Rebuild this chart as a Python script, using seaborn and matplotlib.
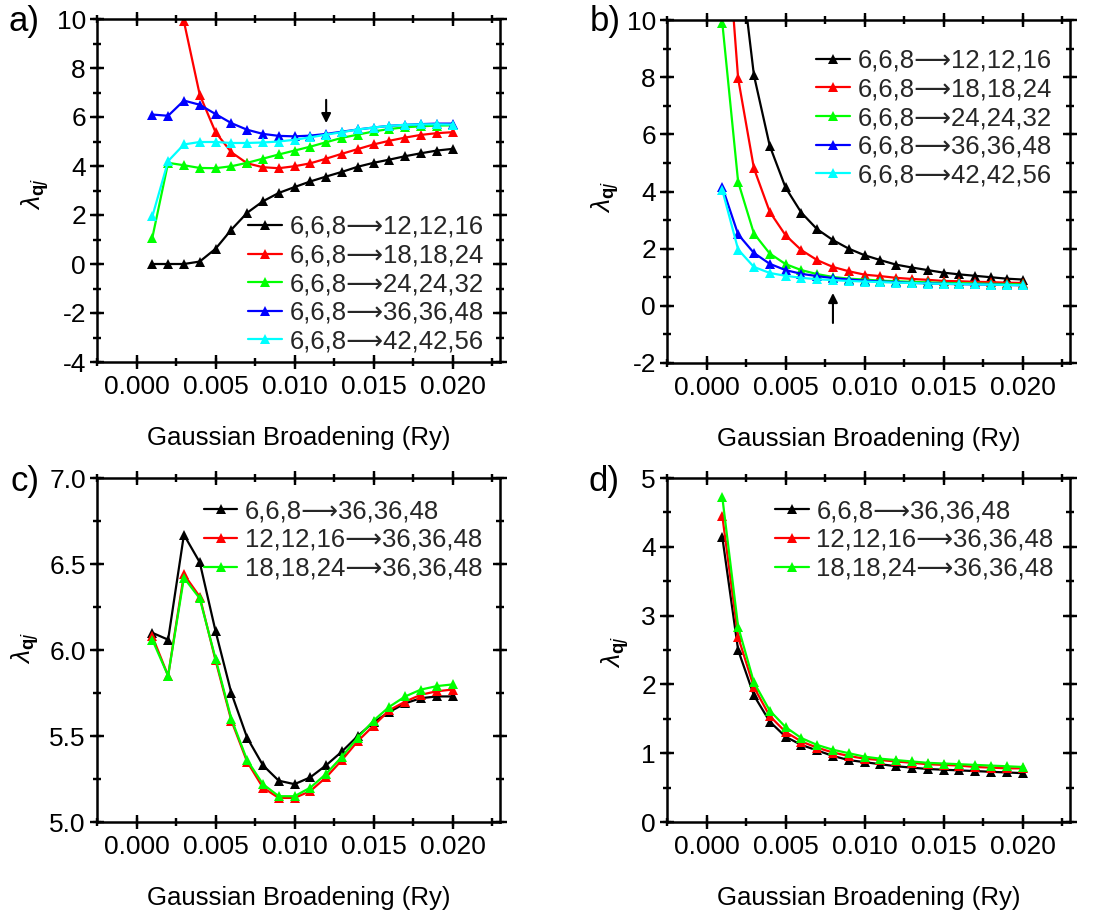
import numpy as np
import pandas as pd
import matplotlib
matplotlib.use("Agg")
import matplotlib.pyplot as plt
from matplotlib.ticker import MultipleLocator, FormatStrFormatter
import seaborn as sns

# ---------------- data ----------------
x = [0.001 * i for i in range(1, 21)]

ARW = "\u27f6"
# panel a
a_labels = ["6,6,8" + ARW + "12,12,16", "6,6,8" + ARW + "18,18,24", "6,6,8" + ARW + "24,24,32",
            "6,6,8" + ARW + "36,36,48", "6,6,8" + ARW + "42,42,56"]
a_black = [0.0, 0.0, 0.0, 0.1, 0.62, 1.4, 2.09, 2.56, 2.9, 3.14, 3.37, 3.57, 3.76,
           3.97, 4.13, 4.26, 4.4, 4.52, 4.63, 4.7]
a_red = [np.nan, np.nan, 9.9, 6.91, 5.38, 4.56, 4.11, 3.95, 3.91, 3.99, 4.11, 4.3,
         4.5, 4.69, 4.88, 5.03, 5.16, 5.27, 5.34, 5.38]
a_green = [1.07, 4.13, 4.03, 3.92, 3.91, 3.99, 4.13, 4.3, 4.47, 4.63, 4.79, 4.97,
           5.15, 5.28, 5.41, 5.51, 5.58, 5.62, 5.65, 5.66]
a_blue = [6.1, 6.05, 6.67, 6.5, 6.12, 5.75, 5.48, 5.31, 5.23, 5.21, 5.24, 5.31,
          5.4, 5.49, 5.57, 5.64, 5.68, 5.71, 5.73, 5.73]
a_cyan = [1.94, 4.2, 4.88, 4.98, 4.98, 4.94, 4.94, 4.96, 5.0, 5.07, 5.17, 5.28,
          5.38, 5.49, 5.57, 5.64, 5.68, 5.7, 5.7, 5.69]

# panel b
b_labels = a_labels
b_black = [np.nan, 12.7, 8.07, 5.6, 4.14, 3.26, 2.68, 2.3, 2.0, 1.77, 1.6, 1.44,
           1.34, 1.25, 1.16, 1.1, 1.05, 1.0, 0.95, 0.92]
b_red = [15.3, 7.96, 4.81, 3.29, 2.47, 1.95, 1.6, 1.36, 1.21, 1.09, 1.04, 0.98,
         0.94, 0.91, 0.87, 0.86, 0.84, 0.83, 0.81, 0.8]
b_green = [9.9, 4.34, 2.53, 1.83, 1.46, 1.25, 1.11, 1.01, 0.95, 0.92, 0.88, 0.86,
           0.84, 0.82, 0.8, 0.79, 0.78, 0.77, 0.76, 0.75]
b_blue = [4.15, 2.5, 1.85, 1.47, 1.25, 1.12, 1.04, 0.97, 0.92, 0.88, 0.85, 0.83,
          0.8, 0.79, 0.77, 0.76, 0.75, 0.74, 0.73, 0.72]
b_cyan = [4.05, 1.97, 1.36, 1.15, 1.05, 0.98, 0.93, 0.9, 0.87, 0.85, 0.83, 0.81,
          0.8, 0.78, 0.77, 0.76, 0.75, 0.74, 0.73, 0.72]

# panel c
cd_labels = ["6,6,8" + ARW + "36,36,48", "12,12,16" + ARW + "36,36,48", "18,18,24" + ARW + "36,36,48"]
c_black = [6.1, 6.06, 6.67, 6.51, 6.11, 5.75, 5.49, 5.33, 5.24, 5.22, 5.26, 5.33,
           5.41, 5.5, 5.58, 5.64, 5.69, 5.72, 5.73, 5.73]
c_red = [6.08, 5.85, 6.44, 6.31, 5.94, 5.59, 5.35, 5.2, 5.14, 5.14, 5.18, 5.26,
         5.36, 5.47, 5.56, 5.65, 5.7, 5.74, 5.76, 5.77]
c_green = [6.06, 5.85, 6.42, 6.3, 5.95, 5.6, 5.36, 5.22, 5.15, 5.15, 5.2, 5.28,
           5.38, 5.49, 5.59, 5.67, 5.73, 5.77, 5.79, 5.8]

# panel d
d_black = [4.14, 2.5, 1.84, 1.46, 1.24, 1.12, 1.04, 0.96, 0.9, 0.87, 0.84, 0.81,
           0.79, 0.77, 0.76, 0.75, 0.74, 0.73, 0.72, 0.71]
d_red = [4.45, 2.69, 1.96, 1.54, 1.31, 1.17, 1.08, 1.01, 0.96, 0.92, 0.9, 0.88,
         0.86, 0.84, 0.83, 0.82, 0.8, 0.79, 0.78, 0.78]
d_green = [4.72, 2.84, 2.03, 1.62, 1.38, 1.22, 1.12, 1.05, 1.0, 0.95, 0.92, 0.9,
           0.88, 0.86, 0.85, 0.84, 0.83, 0.82, 0.81, 0.8]

xlabel = "Gaussian Broadening (Ry)"
ylabel = r"$\lambda_{\mathbf{q}j}$"
panel_tags = ["a)", "b)", "c)", "d)"]

# arrows (annotation positions)
arrow_a = dict(x=0.012, y_tail=6.7, y_head=5.75)
arrow_b = dict(x=0.008, y_tail=-0.6, y_head=0.45)

# ---------------- style ----------------
sns.set_theme(style="ticks")
MAJ_LEN, MIN_LEN, TICK_W = 10, 6, 1.6
plt.rcParams.update({
    "font.family": ["Liberation Sans", "DejaVu Sans"],
    "mathtext.fontset": "custom",
    "mathtext.rm": "Liberation Sans",
    "mathtext.it": "Liberation Sans:italic",
    "mathtext.bf": "Liberation Sans:bold",
    "xtick.direction": "inout", "ytick.direction": "inout",
    "xtick.top": True, "ytick.right": True,
    "xtick.bottom": True, "ytick.left": True,
    "xtick.minor.visible": True, "ytick.minor.visible": True,
    "xtick.major.size": MAJ_LEN, "ytick.major.size": MAJ_LEN,
    "xtick.minor.size": MIN_LEN, "ytick.minor.size": MIN_LEN,
    "xtick.major.width": TICK_W, "ytick.major.width": TICK_W,
    "xtick.minor.width": TICK_W, "ytick.minor.width": TICK_W,
    "xtick.color": "black", "ytick.color": "black",
    "xtick.labelcolor": "black", "ytick.labelcolor": "black",
    "xtick.major.pad": 4.5, "ytick.major.pad": 3,
    "axes.edgecolor": "black", "axes.linewidth": 1.8,
})

colors5 = ["#000000", "#ff0000", "#00ff00", "#0000ff", "#00ffff"]
colors3 = ["#000000", "#ff0000", "#00ff00"]

fig = plt.figure(figsize=(11.06, 9.15), dpi=100)
W, H = 1106, 915
DPI = 100
FS = 18.5
XLIM = (-0.0025, 0.023)
XMAJ, XMIN = 0.005, 0.0025


def add_ax(left, top, right, bottom):
    return fig.add_axes([left / W, 1 - bottom / H, (right - left) / W, (bottom - top) / H])


def steps(lo, hi, step):
    k0 = int(np.ceil(lo / step - 1e-9))
    k1 = int(np.floor(hi / step + 1e-9))
    return [k * step for k in range(k0, k1 + 1)]


def tick_marks(ax, box, ylim, ymaj, ymin):
    # frame tick marks crossing all four sides, drawn as line collections
    w_px = box[2] - box[0]
    h_px = box[3] - box[1]
    xt = ax.get_xaxis_transform()
    yt = ax.get_yaxis_transform()
    for step, ln in [(XMAJ, MAJ_LEN), (XMIN, MIN_LEN)]:
        half = ln / 2 * DPI / 72 / h_px
        pos = steps(XLIM[0], XLIM[1], step)
        for side in (0, 1):
            ax.vlines(pos, side - half, side + half, transform=xt, colors="black",
                      linewidth=TICK_W, clip_on=False, zorder=3)
    for step, ln in [(ymaj, MAJ_LEN), (ymin, MIN_LEN)]:
        half = ln / 2 * DPI / 72 / w_px
        pos = steps(ylim[0], ylim[1], step)
        for side in (0, 1):
            ax.hlines(pos, side - half, side + half, transform=yt, colors="black",
                      linewidth=TICK_W, clip_on=False, zorder=3)


def make_panel(box, series, labels, colors, ylim, ymaj, ymin, yfmt, ylab_xy,
               leg_loc, leg_anchor, arrow=None):
    ax = add_ax(*box)
    for vals, lab, col in zip(series, labels, colors):
        df = pd.DataFrame({"x": x, "y": vals}).dropna()
        sns.lineplot(data=df, x="x", y="y", ax=ax, color=col, marker="^",
                     markersize=7.5, markeredgewidth=0, linewidth=1.6, label=lab,
                     errorbar=None, sort=False)
    ax.set_xlim(*XLIM)
    ax.set_ylim(*ylim)
    ax.xaxis.set_major_locator(MultipleLocator(XMAJ))
    ax.xaxis.set_minor_locator(MultipleLocator(XMIN))
    ax.xaxis.set_major_formatter(FormatStrFormatter("%.3f"))
    ax.yaxis.set_major_locator(MultipleLocator(ymaj))
    ax.yaxis.set_minor_locator(MultipleLocator(ymin))
    ax.yaxis.set_major_formatter(FormatStrFormatter(yfmt))
    ax.tick_params(which="both", labelsize=19)
    tick_marks(ax, box, ylim, ymaj, ymin)
    ax.set_xlim(*XLIM)
    ax.set_ylim(*ylim)
    for s in ax.spines.values():
        s.set_visible(True)
        s.set_linewidth(1.8)
        s.set_color("black")
    ax.set_xlabel(xlabel, fontsize=FS, labelpad=19, color="black")
    ax.set_ylabel(ylabel, fontsize=19, color="black", va="center")
    ax.yaxis.set_label_coords(*ylab_xy)
    ax.legend(loc=leg_loc, bbox_to_anchor=leg_anchor, frameon=False, fontsize=FS,
              handlelength=1.3, handletextpad=0.3, labelspacing=0.18,
              borderpad=0.0, borderaxespad=0.0)
    if arrow is not None:
        ax.annotate("", xy=(arrow["x"], arrow["y_head"]), xytext=(arrow["x"], arrow["y_tail"]),
                    arrowprops=dict(arrowstyle="-|>", color="black", lw=1.5,
                                    mutation_scale=14, shrinkA=0, shrinkB=0))
    return ax


ax_a = make_panel((97, 19, 500, 362), [a_black, a_red, a_green, a_blue, a_cyan], a_labels,
                  colors5, (-4, 10), 2, 1, "%g", (-0.154, 0.49),
                  "lower right", (0.96, 0.025), arrow_a)
ax_b = make_panel((667, 20, 1070, 363), [b_black, b_red, b_green, b_blue, b_cyan], b_labels,
                  colors5, (-2, 10), 2, 1, "%g", (-0.154, 0.485),
                  "upper right", (0.955, 0.916), arrow_b)
ax_c = make_panel((97, 478, 500, 822), [c_black, c_red, c_green], cd_labels,
                  colors3, (5.0, 7.0), 0.5, 0.25, "%.1f", (-0.179, 0.506),
                  "upper right", (0.957, 0.938))
ax_d = make_panel((667, 478, 1070, 822), [d_black, d_red, d_green], cd_labels,
                  colors3, (0, 5), 1, 0.5, "%g", (-0.129, 0.494),
                  "upper right", (0.96, 0.938))

tag_pos = [(9, 21), (590, 21), (11, 481), (589, 482)]
for tag, (px, py) in zip(panel_tags, tag_pos):
    fig.text(px / W, 1 - py / H, tag, fontsize=25, ha="left", va="center", color="black")

fig.savefig("out.png", dpi=100)
